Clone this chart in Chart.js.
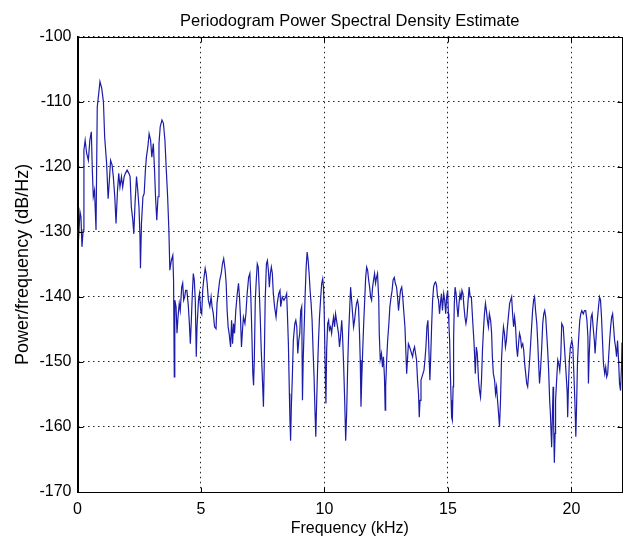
<!DOCTYPE html>
<html>
<head>
<meta charset="utf-8">
<script src="https://cdn.jsdelivr.net/npm/chart.js@4.4.1/dist/chart.umd.min.js"></script>
<style>
  html, body { margin: 0; padding: 0; background: #fff; }
</style>
</head>
<body>
<canvas id="psd" width="628" height="540"></canvas>
<script>
// frequency axis (kHz) and periodogram estimate (dB/Hz)
var freqKHz = [
  0, 0.04, 0.10, 0.14, 0.18, 0.23, 0.26, 0.31, 0.37, 0.44, 0.50, 0.56, 0.60, 0.64, 0.69, 0.75,
  0.80, 0.86, 0.91, 0.98, 1.05, 1.10, 1.18, 1.24, 1.29, 1.34, 1.40, 1.45, 1.51, 1.56, 1.62, 1.67,
  1.72, 1.78, 1.83, 1.89, 1.94, 2.01, 2.08, 2.13, 2.18, 2.24, 2.28, 2.33, 2.39, 2.44, 2.49, 2.53,
  2.55, 2.59, 2.65, 2.70, 2.75, 2.79, 2.85, 2.90, 2.96, 3.01, 3.07, 3.12, 3.16, 3.21, 3.26, 3.30,
  3.35, 3.42, 3.48, 3.54, 3.59, 3.65, 3.70, 3.74,
  3.80, 3.86, 3.89, 3.92, 3.94, 3.99, 4.03, 4.07, 4.12, 4.16, 4.22, 4.26, 4.30, 4.34, 4.38, 4.43,
  4.49, 4.53, 4.57, 4.61, 4.65, 4.69, 4.73, 4.77, 4.81, 4.84, 4.90, 4.94, 4.99, 5.03, 5.07, 5.11,
  5.17, 5.21, 5.25, 5.30, 5.36, 5.41, 5.45, 5.50, 5.55, 5.61, 5.65, 5.71, 5.76, 5.82, 5.87, 5.92,
  5.98, 6.02, 6.06, 6.10, 6.14, 6.20, 6.24, 6.28, 6.32, 6.36, 6.41, 6.47, 6.52, 6.56, 6.60, 6.64,
  6.69, 6.72, 6.78, 6.82, 6.87, 6.93, 6.98, 7.02, 7.06, 7.10, 7.13, 7.16, 7.20, 7.24, 7.28, 7.32,
  7.36, 7.40, 7.44, 7.48, 7.53, 7.56, 7.60, 7.65, 7.69, 7.73, 7.77, 7.81, 7.85, 7.89, 7.93, 7.98,
  8.04, 8.09, 8.15, 8.20,
  8.23, 8.29, 8.36, 8.43, 8.47, 8.50, 8.54, 8.58, 8.60, 8.63, 8.66, 8.70, 8.74, 8.80, 8.84, 8.88,
  8.92, 8.96, 9.00, 9.04, 9.08, 9.11, 9.14, 9.18, 9.22, 9.26, 9.30, 9.34, 9.38, 9.42, 9.46, 9.50,
  9.54, 9.58, 9.62, 9.65, 9.68, 9.72, 9.76, 9.80, 9.85, 9.89, 9.93, 9.96, 9.99, 10.03, 10.06, 10.09,
  10.13, 10.17, 10.20, 10.25, 10.29, 10.33, 10.37, 10.41, 10.45, 10.49, 10.53, 10.57, 10.61, 10.65, 10.70, 10.73,
  10.78, 10.82, 10.86, 10.90, 10.94, 10.98, 11.02, 11.06, 11.10, 11.14, 11.18, 11.22, 11.26, 11.30, 11.34, 11.38,
  11.42, 11.45, 11.48, 11.51, 11.55, 11.59, 11.63, 11.67, 11.71, 11.75, 11.79, 11.83, 11.87, 11.91, 11.95, 11.99,
  12.03, 12.07, 12.11, 12.15,
  12.20, 12.22, 12.26, 12.31, 12.35, 12.39, 12.43, 12.46, 12.48, 12.52, 12.56, 12.61, 12.65, 12.70, 12.74, 12.78,
  12.83, 12.87, 12.92, 12.96, 13.00, 13.04, 13.08, 13.13, 13.17, 13.21, 13.26, 13.30, 13.33, 13.37, 13.40, 13.45,
  13.49, 13.53, 13.57, 13.61, 13.65, 13.69, 13.73, 13.77, 13.81, 13.84, 13.87, 13.91, 13.95, 13.99, 14.03, 14.07,
  14.11, 14.15, 14.19, 14.23, 14.27, 14.30, 14.34, 14.38, 14.42, 14.46, 14.50, 14.54, 14.58, 14.62, 14.66, 14.71,
  14.74, 14.78, 14.83, 14.87, 14.91, 14.95, 14.99, 15.02, 15.04, 15.07, 15.10, 15.13, 15.15, 15.18, 15.21, 15.23,
  15.26, 15.29, 15.33, 15.37, 15.41, 15.45, 15.49, 15.53, 15.57, 15.61, 15.65, 15.69, 15.73, 15.77, 15.82, 15.86,
  15.90,
  15.95, 16.01, 16.06, 16.11, 16.15, 16.19, 16.24, 16.28, 16.32, 16.36, 16.40, 16.44, 16.48, 16.52, 16.56, 16.60,
  16.64, 16.68, 16.73, 16.77, 16.80, 16.84, 16.89, 16.93, 16.97, 17.01, 17.05, 17.09, 17.13, 17.17, 17.21, 17.25,
  17.29, 17.33, 17.37, 17.41, 17.46, 17.50, 17.54, 17.58, 17.62, 17.66, 17.70, 17.74, 17.78, 17.82, 17.86, 17.90,
  17.94, 17.98, 18.03, 18.07, 18.11, 18.15, 18.19, 18.23, 18.27, 18.31, 18.35, 18.39, 18.43, 18.47, 18.51, 18.55,
  18.60, 18.64, 18.68, 18.71, 18.75, 18.80, 18.84, 18.88, 18.92, 18.96, 19.00, 19.04, 19.08, 19.12, 19.15, 19.18,
  19.20, 19.23, 19.26, 19.28, 19.31, 19.34, 19.36, 19.41, 19.45, 19.49, 19.53, 19.57,
  19.61, 19.67, 19.72, 19.77, 19.83, 19.85, 19.88, 19.92, 19.96, 20.02, 20.06, 20.10, 20.14, 20.18, 20.21, 20.25,
  20.29, 20.34, 20.38, 20.42, 20.48, 20.53, 20.58, 20.63, 20.67, 20.69, 20.72, 20.76, 20.80, 20.84, 20.88, 20.93,
  20.96, 21.01, 21.05, 21.10, 21.14, 21.18, 21.22, 21.26, 21.30, 21.35, 21.39, 21.43, 21.47, 21.51, 21.55, 21.59,
  21.63, 21.67, 21.71, 21.75, 21.79, 21.83, 21.87, 21.91, 21.95, 21.99, 22.03, 22.05
];
var psdDb = [
  -129.7, -131.3, -126.9, -127.7, -132.3, -129.7, -117.4, -115.9, -117.9, -119.0, -115.9, -114.6, -120.5, -124.6, -123.6, -129.7,
  -110.8, -108.7, -106.9, -107.9, -110.0, -115.4, -119.5, -124.9, -122.1, -119.0, -119.7, -121.5, -124.6, -128.7, -123.6, -121.0,
  -123.1, -121.5, -123.1, -121.5, -121.0, -120.5, -121.0, -121.5, -126.2, -128.2, -130.3, -125.6, -121.5, -123.6, -126.2, -130.8,
  -135.6, -128.7, -124.6, -124.1, -120.5, -118.5, -116.9, -114.9, -115.9, -118.5, -116.4, -120.5, -124.6, -128.2, -124.6, -116.4,
  -113.8, -112.8, -113.3, -115.9, -120.0, -124.6, -129.7, -135.9,
  -134.4, -133.6, -137.4, -152.3, -140.5, -141.5, -145.6, -143.1, -141.0, -142.1, -138.5, -137.9, -140.5, -140.0, -139.0, -139.0,
  -141.5, -144.1, -147.2, -143.6, -139.5, -136.4, -137.4, -140.5, -149.2, -144.6, -140.5, -139.5, -142.1, -142.6, -139.0, -137.4,
  -135.6, -136.4, -137.9, -140.5, -141.5, -140.0, -141.5, -142.6, -144.6, -144.9, -141.0, -139.0, -137.4, -136.4, -134.9, -134.1,
  -135.9, -137.9, -142.1, -144.6, -145.6, -147.7, -143.6, -147.2, -144.1, -145.6, -142.1, -139.5, -137.9, -140.0, -143.1, -147.7,
  -144.6, -143.1, -144.1, -142.6, -139.5, -137.0, -136.4, -140.0, -145.6, -151.8, -153.6, -149.7, -140.5, -137.4, -134.9, -135.4,
  -139.0, -143.1, -148.2, -151.8, -156.9, -150.8, -140.5, -134.9, -134.4, -135.9, -138.5, -136.4, -135.4, -136.4, -139.5, -141.5,
  -143.1, -141.0, -139.5, -139.0,
  -141.5, -140.0, -140.5, -140.0, -139.5, -142.6, -147.2, -154.9, -158.5, -162.1, -156.9, -152.3, -146.7, -144.1, -143.6, -144.6,
  -148.7, -146.7, -145.6, -142.1, -141.5, -155.9, -149.7, -144.6, -139.5, -135.4, -133.1, -134.4, -136.4, -139.0, -141.0, -143.6,
  -148.2, -152.3, -157.9, -161.5, -156.9, -151.3, -146.7, -143.1, -140.0, -137.9, -137.2, -138.5, -142.1, -150.8, -156.4, -148.2,
  -144.1, -143.6, -145.1, -144.6, -145.6, -144.1, -143.1, -144.6, -142.6, -143.6, -144.6, -145.6, -147.7, -146.2, -143.6, -145.6,
  -150.8, -155.9, -162.1, -157.9, -150.8, -145.6, -142.1, -138.5, -140.5, -142.6, -144.6, -143.6, -142.1, -141.0, -140.5, -141.5,
  -145.6, -149.7, -156.9, -152.8, -148.2, -144.1, -140.5, -137.0, -135.4, -135.9, -137.4, -138.5, -140.0, -140.5, -138.5, -137.4,
  -136.4, -137.9, -137.0, -136.4,
  -140.5, -145.6, -149.7, -148.7, -150.8, -149.2, -152.3, -157.4, -153.8, -149.7, -146.7, -144.1, -141.5, -140.0, -139.0, -137.4,
  -137.0, -137.9, -138.5, -140.0, -142.1, -140.5, -139.0, -138.5, -140.0, -142.1, -144.6, -148.7, -151.8, -149.2, -147.2, -147.7,
  -148.2, -148.7, -149.2, -148.2, -147.7, -148.7, -149.7, -152.8, -154.9, -158.5, -155.9, -152.8, -152.3, -151.8, -151.3, -149.7,
  -147.7, -144.6, -143.6, -148.2, -152.8, -149.7, -144.6, -140.5, -138.5, -137.9, -137.7, -138.2, -140.0, -140.5, -142.6, -140.5,
  -139.5, -142.1, -139.5, -140.5, -142.6, -140.0, -139.0, -142.6, -144.1, -146.7, -151.8, -155.9, -158.5, -159.0, -153.8, -146.7,
  -141.0, -138.5, -139.5, -141.5, -143.1, -141.0, -139.5, -140.5, -139.0, -139.5, -141.5, -143.1, -144.1, -143.1, -140.5, -138.5,
  -140.0,
  -140.0, -144.1, -147.2, -151.8, -147.7, -148.7, -152.8, -154.4, -155.4, -152.8, -148.2, -145.1, -142.6, -141.0, -142.1, -143.6,
  -144.6, -142.6, -143.6, -145.6, -149.2, -151.8, -152.8, -154.9, -153.8, -155.9, -157.9, -160.0, -155.9, -149.7, -146.7, -144.6,
  -145.6, -147.7, -146.7, -144.6, -142.6, -141.0, -140.5, -140.0, -142.6, -144.6, -143.1, -144.6, -147.7, -149.2, -147.2, -145.6,
  -146.2, -147.7, -147.2, -148.2, -150.3, -151.8, -153.3, -153.8, -151.8, -149.7, -147.2, -144.6, -142.1, -140.5, -140.0, -142.1,
  -144.1, -147.2, -150.8, -153.3, -151.3, -147.7, -144.1, -142.6, -142.1, -143.1, -145.6, -148.2, -151.3, -155.9, -157.9, -161.0,
  -163.1, -158.5, -153.8, -159.0, -165.5, -161.0, -155.9, -152.3, -149.7, -150.3, -151.3, -149.2,
  -144.1, -144.6, -147.7, -150.8, -154.6, -158.5, -154.0, -149.7, -147.7, -146.7, -147.7, -151.8, -155.9, -161.5, -156.9, -149.7,
  -146.7, -143.6, -142.6, -142.1, -142.6, -142.1, -142.1, -143.6, -146.2, -153.3, -149.2, -145.6, -143.1, -142.6, -144.6, -146.7,
  -148.7, -145.6, -143.6, -141.5, -140.0, -140.5, -143.1, -146.7, -150.3, -151.8, -150.8, -152.3, -151.8, -149.2, -146.7, -144.6,
  -143.1, -142.6, -144.6, -146.7, -147.7, -149.2, -146.7, -149.7, -153.3, -154.4, -150.8, -147.0
];
var xTickValues = [0, 5, 10, 15, 20];
var yTickValues = [-170, -160, -150, -140, -130, -120, -110, -100];

var fontFamily = "'Liberation Sans', Arial, Helvetica, sans-serif";

// MATLAB style: closed box with short inward tick marks on all four sides
var axesBox = {
  id: 'axesBox',
  afterDatasetsDraw: function(chart) {
    var a = chart.chartArea;
    var ctx = chart.ctx;
    var xs = chart.scales.x, ys = chart.scales.y;
    var left = Math.round(a.left) + 0.5, right = Math.round(a.right) + 0.5;
    var top = Math.round(a.top) + 0.5, bottom = Math.round(a.bottom) + 0.5;
    ctx.save();
    ctx.strokeStyle = '#000';
    ctx.lineWidth = 1;
    ctx.beginPath();
    xTickValues.forEach(function(v) {
      var px = Math.round(xs.getPixelForValue(v)) + 0.5;
      ctx.moveTo(px, bottom); ctx.lineTo(px, bottom - 5);
      ctx.moveTo(px, top); ctx.lineTo(px, top + 5);
    });
    yTickValues.forEach(function(v) {
      var py = Math.round(ys.getPixelForValue(v)) + 0.5;
      ctx.moveTo(left, py); ctx.lineTo(left + 5, py);
      ctx.moveTo(right, py); ctx.lineTo(right - 5, py);
    });
    ctx.stroke();
    ctx.strokeRect(left, top, right - left, bottom - top);
    ctx.restore();
  }
};

var points = freqKHz.map(function(f, i) { return { x: f, y: psdDb[i] }; });

new Chart(document.getElementById('psd'), {
  type: 'line',
  data: {
    datasets: [{
      data: points,
      borderColor: '#1c1ca8',
      borderWidth: 1.2,
      pointRadius: 0,
      tension: 0,
      fill: false
    }]
  },
  plugins: [axesBox],
  options: {
    responsive: false,
    animation: false,
    layout: { padding: { top: 0, right: 6, bottom: 0, left: 0 } },
    plugins: {
      legend: { display: false },
      tooltip: { enabled: false },
      title: {
        display: true,
        fullSize: false,
        text: 'Periodogram Power Spectral Density Estimate',
        color: '#000',
        font: { family: fontFamily, size: 16.5, weight: 'normal' },
        padding: { top: 12, bottom: 5 }
      }
    },
    scales: {
      x: {
        type: 'linear',
        min: 0,
        max: 22.05,
        afterBuildTicks: function(scale) {
          scale.ticks = xTickValues.map(function(v) { return { value: v }; });
        },
        afterFit: function(scale) { scale.height = 48; },
        grid: { color: '#222', lineWidth: 1, drawTicks: false },
        border: { display: true, color: '#000', width: 1, dash: [1.5, 3.5] },
        ticks: {
          color: '#000',
          padding: 8,
          maxRotation: 0,
          font: { family: fontFamily, size: 16 },
          callback: function(v) { return String(v); }
        },
        title: {
          display: true,
          text: 'Frequency (kHz)',
          color: '#000',
          font: { family: fontFamily, size: 16 },
          padding: { top: 0, bottom: 2 }
        }
      },
      y: {
        min: -170,
        max: -100,
        afterBuildTicks: function(scale) {
          scale.ticks = yTickValues.map(function(v) { return { value: v }; });
        },
        afterFit: function(scale) { scale.width = 77.5; },
        grid: { color: '#222', lineWidth: 1, drawTicks: false },
        border: { display: true, color: '#000', width: 1, dash: [1.5, 3.5] },
        ticks: {
          color: '#000',
          padding: 6,
          font: { family: fontFamily, size: 16 },
          callback: function(v) { return String(v); }
        },
        title: {
          display: true,
          text: 'Power/frequency (dB/Hz)',
          color: '#000',
          font: { family: fontFamily, size: 18 },
          padding: { top: 12, bottom: 0 }
        }
      }
    }
  }
});
</script>
</body>
</html>
